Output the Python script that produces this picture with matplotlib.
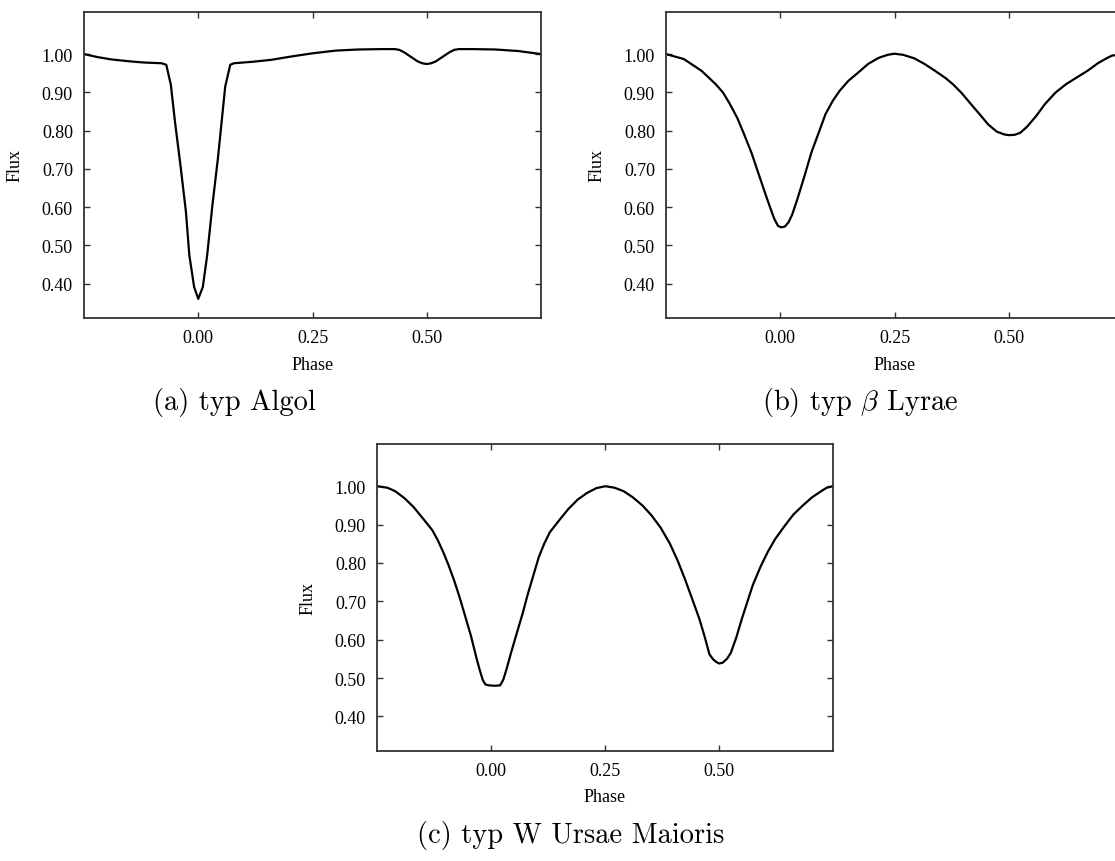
import numpy as np
import matplotlib
matplotlib.use("Agg")
import matplotlib.pyplot as plt

plt.rcParams['font.family'] = 'Liberation Serif'
plt.rcParams['mathtext.fontset'] = 'cm'

# light curves (phase, normalised flux)
algol_phase = [-0.25, -0.22, -0.19, -0.15, -0.12, -0.08, -0.07, -0.06, -0.051, -0.039,
               -0.027, -0.0195, -0.009, 0.0, 0.010, 0.0195, 0.031, 0.043, 0.059, 0.070,
               0.078, 0.12, 0.16, 0.20, 0.25, 0.30, 0.35, 0.40, 0.43, 0.44,
               0.45, 0.46, 0.47, 0.48, 0.49, 0.50, 0.51, 0.52, 0.53, 0.54,
               0.55, 0.56, 0.57, 0.60, 0.65, 0.70, 0.75]
algol_flux = [1.000, 0.992, 0.986, 0.981, 0.978, 0.976, 0.972, 0.920, 0.824, 0.710,
              0.588, 0.474, 0.391, 0.360, 0.391, 0.474, 0.605, 0.727, 0.915, 0.972,
              0.976, 0.980, 0.985, 0.993, 1.002, 1.009, 1.012, 1.013, 1.013, 1.011,
              1.005, 0.997, 0.989, 0.981, 0.976, 0.974, 0.976, 0.981, 0.989, 0.997,
              1.005, 1.011, 1.013, 1.013, 1.012, 1.008, 1.000]

lyrae_phase = [-0.25, -0.211, -0.172, -0.141, -0.125, -0.110, -0.094, -0.079, -0.063, -0.048,
               -0.033, -0.021, -0.013, -0.005, 0.002, 0.010, 0.018, 0.026, 0.037, 0.053,
               0.068, 0.084, 0.099, 0.115, 0.130, 0.149, 0.169, 0.192, 0.215, 0.235,
               0.250, 0.269, 0.293, 0.316, 0.339, 0.362, 0.378, 0.397, 0.416, 0.436,
               0.455, 0.474, 0.490, 0.500, 0.513, 0.525, 0.540, 0.560, 0.579, 0.602,
               0.625, 0.649, 0.672, 0.695, 0.714, 0.726, 0.75]
lyrae_flux = [1.000, 0.987, 0.956, 0.921, 0.899, 0.869, 0.833, 0.790, 0.742, 0.689,
              0.636, 0.595, 0.569, 0.551, 0.547, 0.549, 0.560, 0.580, 0.619, 0.681,
              0.742, 0.794, 0.843, 0.878, 0.904, 0.930, 0.950, 0.974, 0.990, 0.998,
              1.001, 0.998, 0.989, 0.974, 0.956, 0.937, 0.921, 0.898, 0.871, 0.843,
              0.816, 0.797, 0.790, 0.788, 0.789, 0.794, 0.810, 0.838, 0.869, 0.899,
              0.921, 0.939, 0.956, 0.976, 0.989, 0.996, 1.000]

wuma_phase = [-0.25, -0.227, -0.210, -0.190, -0.170, -0.150, -0.129, -0.117, -0.105, -0.093,
              -0.081, -0.069, -0.057, -0.044, -0.032, -0.024, -0.018, -0.012, -0.004, 0.008,
              0.020, 0.027, 0.034, 0.044, 0.057, 0.069, 0.081, 0.093, 0.105, 0.117,
              0.129, 0.150, 0.170, 0.190, 0.210, 0.231, 0.251, 0.271, 0.291, 0.311,
              0.332, 0.352, 0.372, 0.392, 0.409, 0.425, 0.441, 0.457, 0.469, 0.479,
              0.487, 0.494, 0.500, 0.508, 0.518, 0.526, 0.538, 0.550, 0.562, 0.574,
              0.591, 0.607, 0.623, 0.643, 0.663, 0.684, 0.704, 0.724, 0.736, 0.75]
wuma_flux = [1.000, 0.996, 0.987, 0.969, 0.946, 0.917, 0.886, 0.860, 0.829, 0.794,
             0.755, 0.711, 0.663, 0.610, 0.553, 0.518, 0.495, 0.483, 0.481, 0.480,
             0.481, 0.496, 0.523, 0.566, 0.619, 0.667, 0.720, 0.768, 0.816, 0.851,
             0.880, 0.912, 0.941, 0.965, 0.982, 0.995, 1.000, 0.996, 0.987, 0.971,
             0.950, 0.924, 0.892, 0.851, 0.807, 0.759, 0.707, 0.654, 0.606, 0.562,
             0.549, 0.542, 0.538, 0.540, 0.551, 0.566, 0.606, 0.654, 0.698, 0.742,
             0.790, 0.829, 0.862, 0.895, 0.926, 0.950, 0.971, 0.987, 0.996, 1.000]

flux_ticks = [0.40, 0.50, 0.60, 0.70, 0.80, 0.90, 1.00]
phase_ticks = [0.00, 0.25, 0.50]
captions = [r'(a) typ Algol', r'(b) typ $\beta$ Lyrae', r'(c) typ W Ursae Maioris']

W, H = 1115, 862
fig = plt.figure(figsize=(W / 100, H / 100), dpi=100)

# axes boxes in pixels: left, top, width, height
boxes = [(84, 13, 457, 306), (666, 13, 457, 306), (377, 445, 456, 307)]
caption_x = [234, 860, 571]
curves = [(algol_phase, algol_flux), (lyrae_phase, lyrae_flux), (wuma_phase, wuma_flux)]

for (l, t, w, h), (ph, fl), cap, cx in zip(boxes, curves, captions, caption_x):
    ax = fig.add_axes([l / W, (H - t - h) / H, w / W, h / H])
    ax.plot(ph, fl, color='black', lw=1.6, solid_joinstyle='round')
    ax.set_xlim(-0.25, 0.75)
    ax.set_ylim(0.31, 1.11)
    ax.set_xticks(phase_ticks)
    ax.set_xticklabels(['%.2f' % v for v in phase_ticks])
    ax.set_yticks(flux_ticks)
    ax.set_yticklabels(['%.2f' % v for v in flux_ticks])
    ax.tick_params(direction='in', top=True, right=True, length=4, width=1.0,
                   labelsize=13, pad=8, color='#333333')
    for sp in ax.spines.values():
        sp.set_color('#333333')
        sp.set_linewidth(1.3)
    fig.text((l - 69) / W, 1 - (t + h / 2) / H, 'Flux', rotation=90,
             ha='center', va='center', fontsize=13)
    fig.text((l + w / 2) / W, 1 - (t + h + 46) / H, 'Phase',
             ha='center', va='center', fontsize=13)
    fig.text(cx / W, 1 - (t + h + 84) / H, cap, ha='center', va='center',
             fontsize=20.5, family='cmr10')

fig.savefig('out.png', dpi=100)
